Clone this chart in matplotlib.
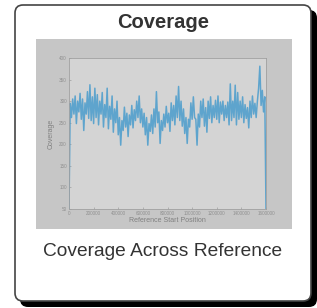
import matplotlib
matplotlib.use('Agg')
import matplotlib.pyplot as plt
from matplotlib.patches import FancyBboxPatch, Rectangle
import numpy as np

plt.rcParams['font.family'] = ['Liberation Sans', 'DejaVu Sans']

card_title = "Coverage"
card_caption = "Coverage Across Reference"
x_label = "Reference Start Position"
y_label = "Coverage"

# coverage read every 10 kb along the reference
step = 10000
coverage = [
    50, 295, 262, 305, 270, 312, 248, 300, 275, 318, 258,
    305, 232, 296, 270, 322, 260, 338, 255, 310, 248,
    330, 262, 315, 245, 300, 270, 320, 240, 292, 262,
    330, 236, 288, 258, 312, 228, 282, 250, 300, 222,
    262, 198, 255, 232, 286, 240, 272, 218, 268, 245,
    290, 238, 280, 255, 300, 262, 312, 250, 282, 240,
    272, 222, 262, 198, 248, 230, 268, 225, 282, 240,
    322, 250, 275, 202, 255, 232, 270, 240, 288, 250,
    272, 230, 296, 255, 290, 245, 312, 262, 334, 255,
    300, 242, 282, 225, 262, 202, 258, 240, 296, 258,
    310, 262, 258, 198, 270, 240, 300, 262, 305, 242,
    285, 228, 300, 260, 310, 250, 290, 262, 302, 258,
    312, 250, 298, 270, 300, 255, 290, 262, 298, 245,
    340, 255, 300, 262, 337, 245, 320, 258, 300, 262,
    310, 250, 292, 260, 285, 238, 300, 262, 312, 270,
    295, 262, 300, 330, 381, 290, 325, 275, 310, 50,
]
positions = np.arange(len(coverage)) * step
x_ticks = [0, 200000, 400000, 600000, 800000, 1000000, 1200000, 1400000, 1600000]
y_ticks = [50, 100, 150, 200, 250, 300, 350, 400]

W, H = 317, 308
fig = plt.figure(figsize=(W / 100, H / 100), dpi=100)
fig.patch.set_facecolor('white')

# card drawn in pixel coordinates
bg = fig.add_axes([0, 0, 1, 1])
bg.set_xlim(0, W)
bg.set_ylim(H, 0)
bg.axis('off')
bg.add_patch(FancyBboxPatch((20, 10), 297, 297, boxstyle="round,pad=0,rounding_size=8",
                            fc='black', ec='none'))
bg.add_patch(FancyBboxPatch((15, 5), 296, 296, boxstyle="round,pad=0,rounding_size=8",
                            fc='white', ec='#444444', lw=1.2))
bg.add_patch(Rectangle((36, 39), 256, 190, fc='#c6c6c6', ec='none'))
bg.text(163, 23, card_title, ha='center', va='center', fontsize=14.5,
        fontweight='bold', color='#333333')
bg.text(163, 252, card_caption, ha='center', va='center', fontsize=13.8,
        color='#333333')

ax = fig.add_axes([69 / W, 1 - 209 / H, 197 / W, 151 / H])
ax.set_facecolor('#d4d4d4')
ax.plot(positions, coverage, color='#4a9ccc', lw=1.1, alpha=0.85)
ax.set_xlim(0, 1600000)
ax.set_ylim(50, 400)
ax.set_xticks(x_ticks)
ax.set_yticks(y_ticks)
ax.set_xticklabels([str(t) for t in x_ticks])
ax.tick_params(labelsize=3.3, colors='#909090', length=1.5, width=0.4, direction='in', pad=1.5)
for s in ax.spines.values():
    s.set_color('#a0a0a0')
    s.set_linewidth(0.6)
ax.set_xlabel(x_label, fontsize=5, color='#808080', labelpad=1)
ax.set_ylabel(y_label, fontsize=5, color='#808080', labelpad=3)

fig.savefig('out.png', dpi=100)
